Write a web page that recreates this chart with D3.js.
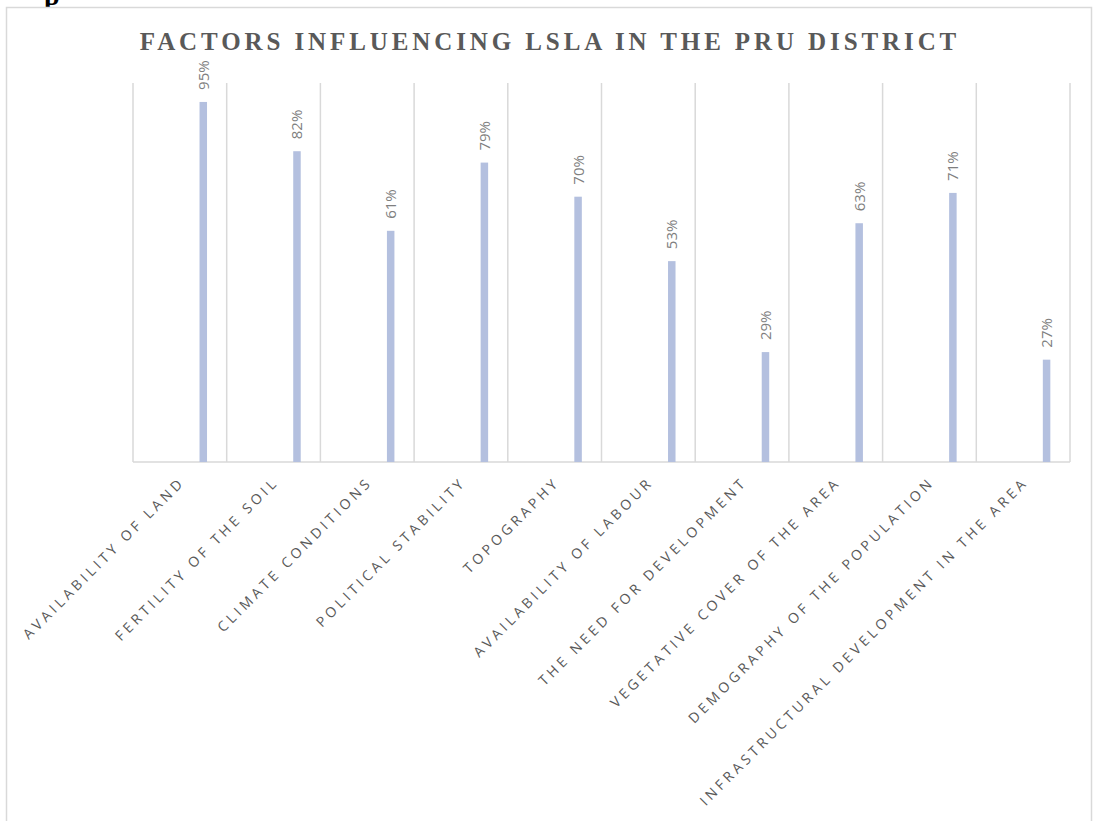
<!DOCTYPE html>
<html>
<head>
<meta charset="utf-8">
<script src="https://cdn.jsdelivr.net/npm/d3@7"></script>
<style>
  body { margin: 0; background: #fff; }
</style>
</head>
<body>
<script>
// chart data
var categories = [
  "AVAILABILITY OF LAND",
  "FERTILITY OF THE SOIL",
  "CLIMATE CONDITIONS",
  "POLITICAL STABILITY",
  "TOPOGRAPHY",
  "AVAILABILITY OF LABOUR",
  "THE NEED FOR DEVELOPMENT",
  "VEGETATIVE COVER OF THE AREA",
  "DEMOGRAPHY OF THE POPULATION",
  "INFRASTRUCTURAL DEVELOPMENT IN THE AREA"
];
var values = [95, 82, 61, 79, 70, 53, 29, 63, 71, 27];
var title = "FACTORS INFLUENCING LSLA IN THE PRU DISTRICT";

var W = 1093, H = 821;
var svg = d3.select("body").append("svg")
  .attr("width", W).attr("height", H);

// cut-off text from the page above the chart
svg.append("text")
  .attr("x", 44).attr("y", 5)
  .attr("font-family", "Liberation Serif")
  .attr("font-weight", "bold")
  .attr("font-size", 28)
  .attr("fill", "#000")
  .text("p");

// chart frame
svg.append("rect")
  .attr("x", 6.5).attr("y", 7.5)
  .attr("width", 1085).attr("height", 830)
  .attr("fill", "#fff")
  .attr("stroke", "#d9d9d9").attr("stroke-width", 1.5);

svg.append("text")
  .attr("x", 550).attr("y", 50)
  .attr("text-anchor", "middle")
  .attr("font-family", "Liberation Serif")
  .attr("font-weight", "bold")
  .attr("font-size", 25)
  .attr("letter-spacing", 3.9)
  .attr("fill", "#595959")
  .text(title);

var plotLeft = 133, plotRight = 1070, plotTop = 83, plotBottom = 462;

var x = d3.scaleBand().domain(categories).range([plotLeft, plotRight]).padding(0);
var y = d3.scaleLinear().domain([0, 100]).range([plotBottom, plotTop]);

// vertical gridlines at category boundaries
var edges = categories.map(function(d) { return x(d); }).concat([plotRight]);
svg.selectAll("line.grid")
  .data(edges)
  .enter()
  .append("line")
  .attr("class", "grid")
  .attr("x1", function(d) { return d; })
  .attr("x2", function(d) { return d; })
  .attr("y1", plotTop)
  .attr("y2", plotBottom)
  .attr("stroke", "#d9d9d9")
  .attr("stroke-width", 1.5);

// baseline
svg.append("line")
  .attr("x1", plotLeft).attr("x2", plotRight)
  .attr("y1", plotBottom).attr("y2", plotBottom)
  .attr("stroke", "#d9d9d9").attr("stroke-width", 1.5);

var bw = 7.5;
var off = 0.71; // bar sits in the right part of each category

svg.selectAll("rect.bar")
  .data(values)
  .enter()
  .append("rect")
  .attr("class", "bar")
  .attr("x", function(d, i) { return x(categories[i]) + x.bandwidth() * off; })
  .attr("y", function(d) { return y(d); })
  .attr("width", bw)
  .attr("height", function(d) { return plotBottom - y(d); })
  .attr("fill", "#b4c0df");

// value labels
svg.selectAll("text.val")
  .data(values)
  .enter()
  .append("text")
  .attr("class", "val")
  .attr("transform", function(d, i) {
    var cx = x(categories[i]) + x.bandwidth() * off + bw / 2 + 5.5;
    return "translate(" + cx + "," + (y(d) - 12) + ") rotate(-90)";
  })
  .attr("font-family", "Open Sans")
  .attr("font-size", 15)
  .attr("fill", "#7f7f7f")
  .text(function(d) { return d + "%"; });

// category labels
svg.selectAll("text.cat")
  .data(categories)
  .enter()
  .append("text")
  .attr("class", "cat")
  .attr("transform", function(d) {
    var cx = x(d) + x.bandwidth() / 2 + 6;
    return "translate(" + cx + "," + 483 + ") rotate(-45)";
  })
  .attr("text-anchor", "end")
  .attr("font-family", "Open Sans")
  .attr("font-size", 14)
  .attr("letter-spacing", 3.7)
  .attr("fill", "#595959")
  .text(function(d) { return d; });
</script>
</body>
</html>
